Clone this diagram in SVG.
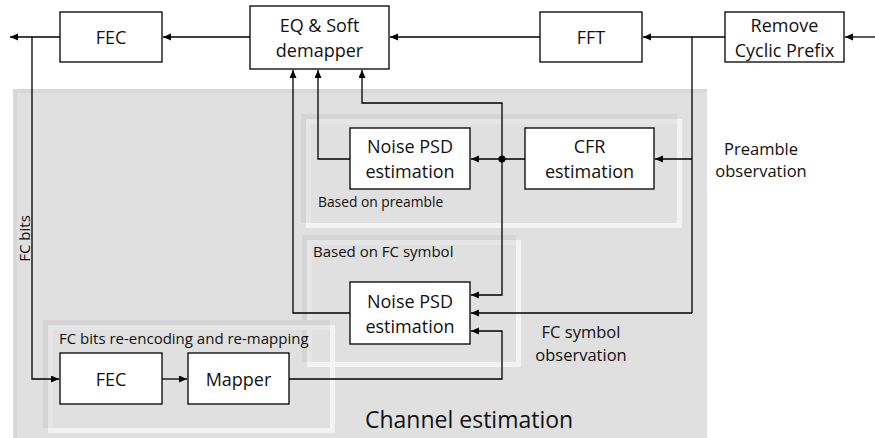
<svg xmlns="http://www.w3.org/2000/svg" width="875" height="438" viewBox="0 0 875 438">
  <style>
    .box { fill: #ffffff; stroke: #000000; stroke-width: 1.3; }
    .lbl { font-family: "Open Sans", "Noto Sans", "Liberation Sans", sans-serif; fill: #111111; }
    .boxtxt { font-size: 18px; text-anchor: middle; }
    .small { font-size: 15px; }
    .wire { fill: none; stroke: #000000; stroke-width: 1.3; }
    .arrow { marker-end: url(#head); }
    .edge-dark { fill: none; stroke: #d5d5d5; stroke-width: 5; }
    .edge-soft { fill: none; stroke: #e6e6e6; stroke-width: 5; }
    .edge-light { fill: none; stroke: #f3f3f3; stroke-width: 5; }
  </style>
  <defs>
    <marker id="head" markerUnits="userSpaceOnUse" markerWidth="9" markerHeight="8" refX="8" refY="3.5" orient="auto">
      <path d="M0,0 L8,3.5 L0,7 Z" fill="#000000"/>
    </marker>
  </defs>

  <rect x="0" y="0" width="875" height="438" fill="#ffffff"/>

  <!-- channel estimation area -->
  <g id="channel-estimation-area">
    <rect x="13" y="89" width="694" height="349" fill="#e0e0e0"/>
    <path d="M15,438 V91 H707" fill="none" stroke="#d8d8d8" stroke-width="4"/>
  </g>

  <!-- sub-areas: dark top-left edge, lighter bottom-right edge -->
  <g id="area-preamble">
    <path class="edge-dark" d="M303.5,223 V116.5 H677"/>
    <path class="edge-soft" d="M308.5,223 V121.5 H677"/>
    <path class="edge-light" d="M306,225.5 H679.5 V119"/>
  </g>
  <g id="area-fc-symbol">
    <path class="edge-dark" d="M304.5,362 V237.5 H516"/>
    <path class="edge-soft" d="M309.5,362 V242.5 H516"/>
    <path class="edge-light" d="M307,364.5 H518.5 V240"/>
  </g>
  <g id="area-fc-bits">
    <path class="edge-dark" d="M45.5,428 V322.5 H330"/>
    <path class="edge-soft" d="M50.5,428 V327.5 H330"/>
    <path class="edge-light" d="M48,430.5 H332.5 V325"/>
  </g>

  <!-- connectors -->
  <g id="connectors">
    <path class="wire arrow" d="M875,37 H845"/>
    <path class="wire arrow" d="M725,37 H643"/>
    <path class="wire arrow" d="M540,37 H390"/>
    <path class="wire arrow" d="M250,37 H163"/>
    <path class="wire arrow" d="M60,37 H10"/>
    <path class="wire" d="M692,37 V313"/>
    <path class="wire arrow" d="M692,159 H655"/>
    <path class="wire arrow" d="M692,313 H471"/>
    <path class="wire arrow" d="M525,159 H471"/>
    <path class="wire arrow" d="M350,159 H318 V70"/>
    <path class="wire arrow" d="M502,159 V103 H362 V70"/>
    <path class="wire arrow" d="M502,159 V295 H471"/>
    <path class="wire arrow" d="M350,313 H293 V70"/>
    <path class="wire arrow" d="M32,37 V379 H59"/>
    <path class="wire arrow" d="M162,379 H187"/>
    <path class="wire arrow" d="M289,379 H502 V331 H471"/>
    <circle cx="502" cy="159" r="3.5" fill="#000000"/>
  </g>

  <!-- nodes -->
  <g id="fec-out">
    <rect class="box" x="60" y="12" width="102" height="50"/>
    <text class="lbl boxtxt" x="111" y="44">FEC</text>
  </g>
  <g id="eq-demapper">
    <rect class="box" x="250" y="6" width="139" height="63"/>
    <text class="lbl boxtxt" x="319.5" y="31.5">EQ &amp; Soft</text>
    <text class="lbl boxtxt" x="319.5" y="56.5">demapper</text>
  </g>
  <g id="fft">
    <rect class="box" x="540" y="12" width="102" height="50"/>
    <text class="lbl boxtxt" x="591" y="44">FFT</text>
  </g>
  <g id="remove-cp">
    <rect class="box" x="725" y="12" width="119" height="50"/>
    <text class="lbl boxtxt" x="784.5" y="32">Remove</text>
    <text class="lbl boxtxt" x="784.5" y="57">Cyclic Prefix</text>
  </g>
  <g id="noise-psd-preamble">
    <rect class="box" x="350" y="128" width="120" height="61"/>
    <text class="lbl boxtxt" x="410" y="153">Noise PSD</text>
    <text class="lbl boxtxt" x="410" y="178">estimation</text>
  </g>
  <g id="cfr-estimation">
    <rect class="box" x="525" y="128" width="129" height="61"/>
    <text class="lbl boxtxt" x="589.5" y="153">CFR</text>
    <text class="lbl boxtxt" x="589.5" y="178">estimation</text>
  </g>
  <g id="noise-psd-fc">
    <rect class="box" x="350" y="282" width="120" height="62"/>
    <text class="lbl boxtxt" x="410" y="308">Noise PSD</text>
    <text class="lbl boxtxt" x="410" y="333">estimation</text>
  </g>
  <g id="fec-reencode">
    <rect class="box" x="60" y="353" width="102" height="51"/>
    <text class="lbl boxtxt" x="111" y="386">FEC</text>
  </g>
  <g id="mapper">
    <rect class="box" x="188" y="353" width="101" height="51"/>
    <text class="lbl boxtxt" x="238.5" y="386">Mapper</text>
  </g>

  <!-- labels -->
  <g id="labels">
    <text class="lbl" x="318" y="207" font-size="13.8px">Based on preamble</text>
    <text class="lbl small" x="313" y="257">Based on FC symbol</text>
    <text class="lbl small" x="59" y="344">FC bits re-encoding and re-mapping</text>
    <text class="lbl" x="761" y="155" font-size="16.5px" text-anchor="middle">Preamble</text>
    <text class="lbl" x="761" y="177" font-size="16.5px" text-anchor="middle">observation</text>
    <text class="lbl" x="581" y="338" font-size="16.5px" text-anchor="middle">FC symbol</text>
    <text class="lbl" x="581" y="361" font-size="16.5px" text-anchor="middle">observation</text>
    <text class="lbl small" transform="translate(29.5,238.5) rotate(-90)" text-anchor="middle">FC bits</text>
    <text class="lbl" x="365" y="428" font-size="23px">Channel estimation</text>
  </g>
</svg>
